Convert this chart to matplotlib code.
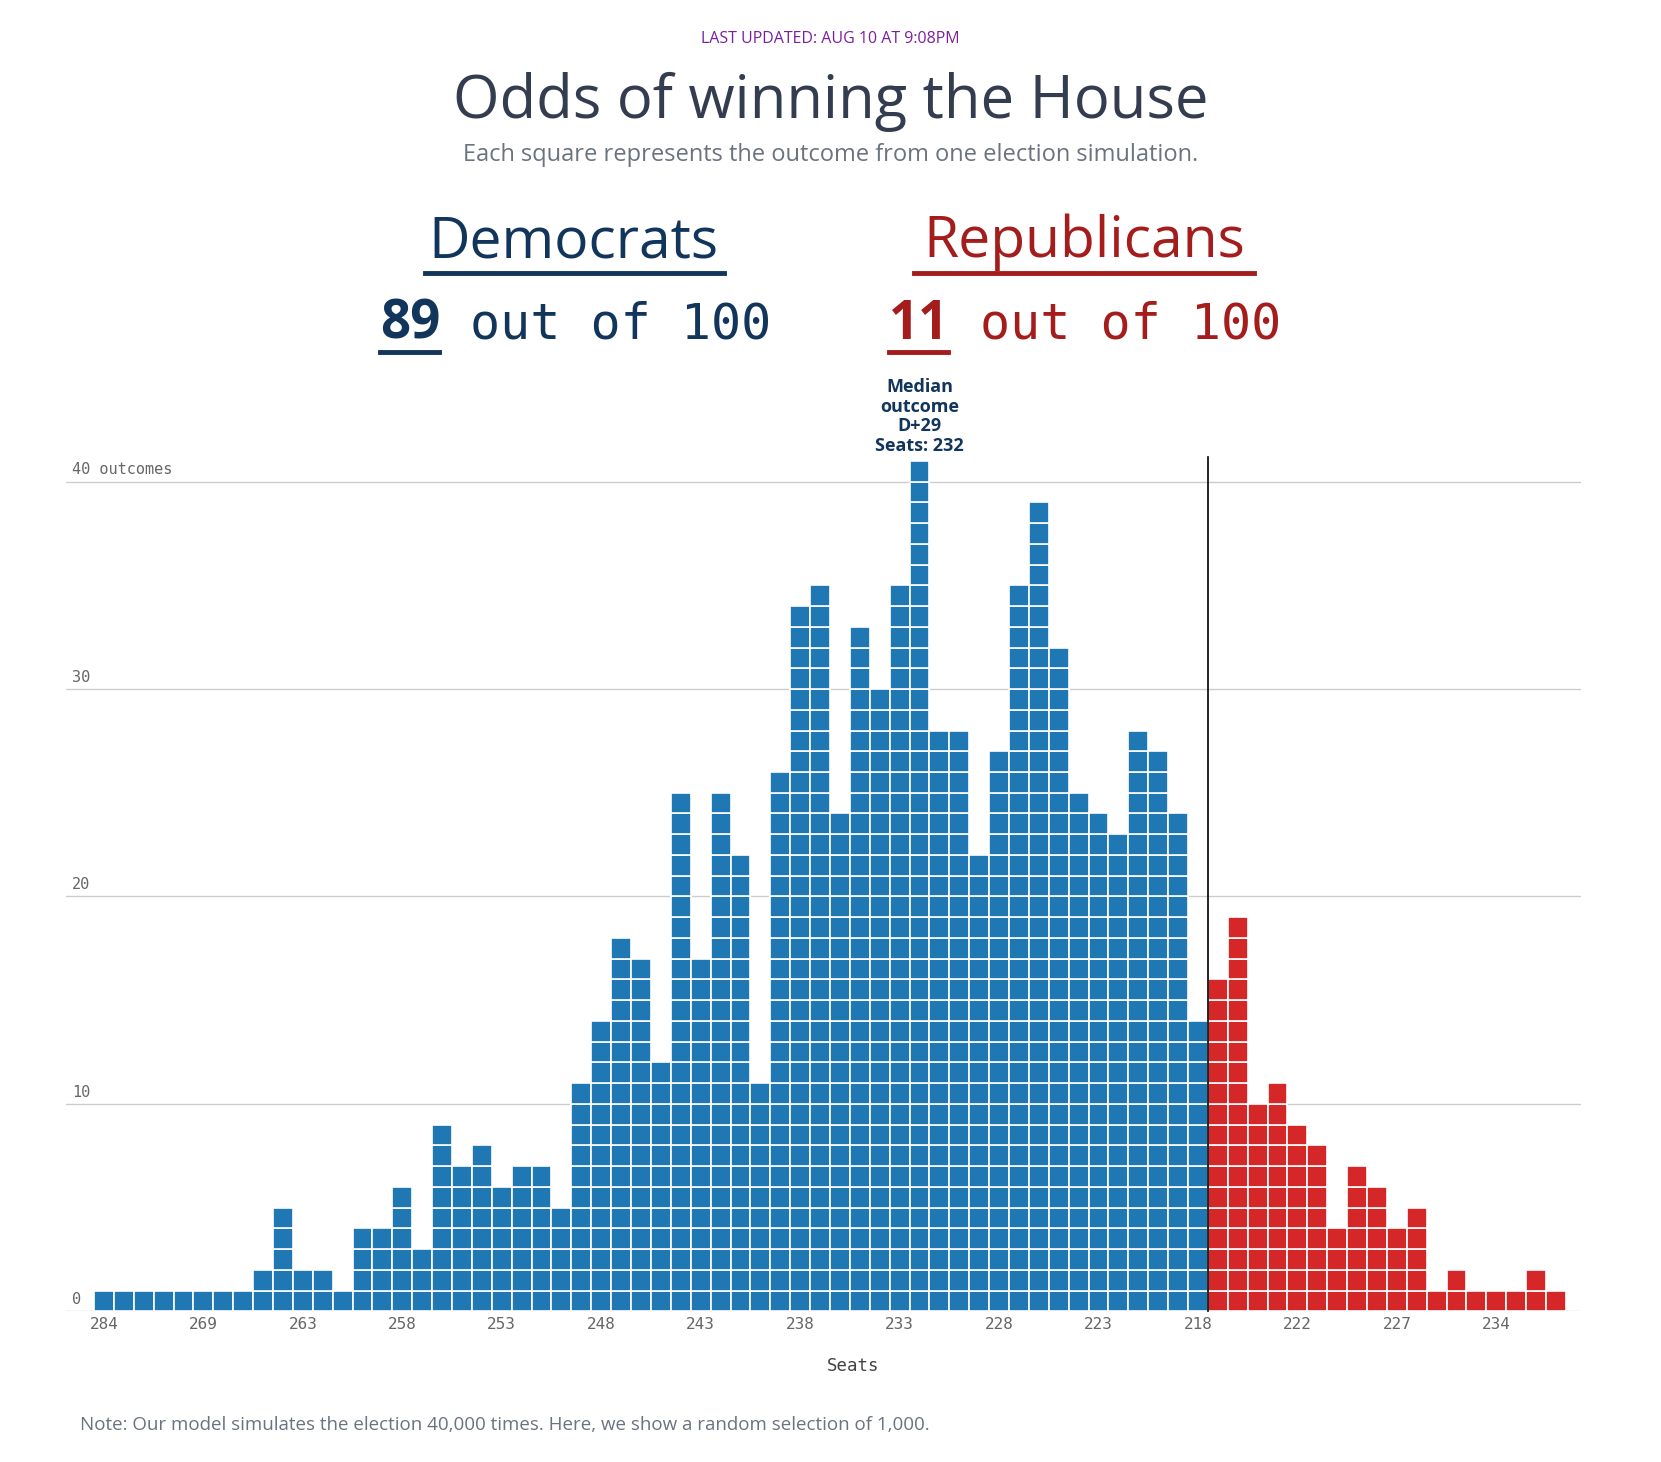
import matplotlib
matplotlib.use('Agg')
import matplotlib.pyplot as plt
from matplotlib.lines import Line2D

BLUE = '#1f77b4'
RED = '#d62728'
DEM = '#12355b'
REP = '#a51c1c'
GRAY = '#666666'

dem_counts = [1, 1, 1, 1, 1, 1, 1, 1, 2, 5, 2, 2, 1, 4, 4, 6, 3, 9, 7, 8,
              6, 7, 7, 5, 11, 14, 18, 17, 12, 25, 17, 25, 22, 11, 26, 34, 35, 24, 33, 30,
              35, 41, 28, 28, 22, 27, 35, 39, 32, 25, 24, 23, 28, 27, 24, 14]
rep_counts = [16, 19, 10, 11, 9, 8, 4, 7, 6, 4, 5, 1, 2, 1, 1, 1, 2, 1]
tick_labels = ['284', '269', '263', '258', '253', '248', '243', '238', '233',
               '228', '223', '218', '222', '227', '234']
grid_values = [10, 20, 30, 40]

fig = plt.figure(figsize=(16.61, 14.62), dpi=100)
ax = fig.add_axes([0.0396, 0.103, 0.912, 0.596])

counts = dem_counts + rep_counts
for i, c in enumerate(counts):
    col = BLUE if i < len(dem_counts) else RED
    ax.bar([i] * c, 1, bottom=range(c), width=1, color=col,
           edgecolor='white', linewidth=1.2, zorder=2)

ax.set_xlim(-1.92, 74.24)
ax.set_ylim(0, 42)

for g in grid_values:
    ax.axhline(g, color='#cccccc', linewidth=1, zorder=1)
ax.axhline(0, color='#cccccc', linewidth=1, zorder=1)
ylabels = ['0', '10', '20', '30', '40 outcomes']
for v, s in zip([0] + grid_values, ylabels):
    ax.text(-1.6, v + 0.2, s, fontsize=11, family='DejaVu Sans Mono',
            color=GRAY, va='bottom', ha='left')

sep = len(dem_counts) - 0.5
ax.plot([sep, sep], [0, 41.2], color='black', linewidth=1.2, zorder=3, clip_on=False)

ax.text(41, 41.3, 'Median\noutcome\nD+29\nSeats: 232', ha='center', va='bottom',
        fontsize=13, color=DEM, family='Open Sans', fontweight='bold', linespacing=1.1)

ax.set_xticks(range(0, 75, 5))
ax.set_xticklabels(tick_labels, family='DejaVu Sans Mono', fontsize=11.5, color=GRAY)
ax.tick_params(axis='x', length=0, pad=4)
ax.set_yticks([])
for s in ax.spines.values():
    s.set_visible(False)
ax.set_xlabel('Seats', family='DejaVu Sans Mono', fontsize=12.5, color='#444444')
ax.xaxis.set_label_coords(0.52, -0.052)

fig.text(0.5, 0.973, 'LAST UPDATED: AUG 10 AT 9:08PM', ha='center', va='center',
         color='#7b1fa2', fontsize=11.5, family='Open Sans')
fig.text(0.5, 0.930, 'Odds of winning the House', ha='center', va='center',
         color='#333d4f', fontsize=43, family='Open Sans')
fig.text(0.5, 0.894, 'Each square represents the outcome from one election simulation.',
         ha='center', va='center', color='#6b7280', fontsize=17, family='Open Sans')

fig.text(0.345, 0.834, 'Democrats', ha='center', va='center', color=DEM,
         fontsize=41, family='Open Sans')
fig.text(0.653, 0.834, 'Republicans', ha='center', va='center', color=REP,
         fontsize=41, family='Open Sans')
fig.add_artist(Line2D([0.256, 0.436], [0.813, 0.813], color=DEM, linewidth=3.5))
fig.add_artist(Line2D([0.550, 0.755], [0.813, 0.813], color=REP, linewidth=3.5))

fig.text(0.229, 0.778, '89', ha='left', va='center', color=DEM, fontsize=38,
         family='Open Sans', fontweight='bold')
fig.text(0.283, 0.778, 'out of 100', ha='left', va='center', color=DEM, fontsize=36,
         family='DejaVu Sans Mono')
fig.add_artist(Line2D([0.229, 0.264], [0.759, 0.759], color=DEM, linewidth=3.5))
fig.text(0.535, 0.778, '11', ha='left', va='center', color=REP, fontsize=38,
         family='Open Sans', fontweight='bold')
fig.text(0.590, 0.778, 'out of 100', ha='left', va='center', color=REP, fontsize=36,
         family='DejaVu Sans Mono')
fig.add_artist(Line2D([0.535, 0.571], [0.759, 0.759], color=REP, linewidth=3.5))

fig.text(0.048, 0.025, 'Note: Our model simulates the election 40,000 times. Here, we show a random selection of 1,000.',
         ha='left', va='center', color='#6b7280', fontsize=13.5, family='Open Sans')

fig.savefig('out.png', dpi=100)
